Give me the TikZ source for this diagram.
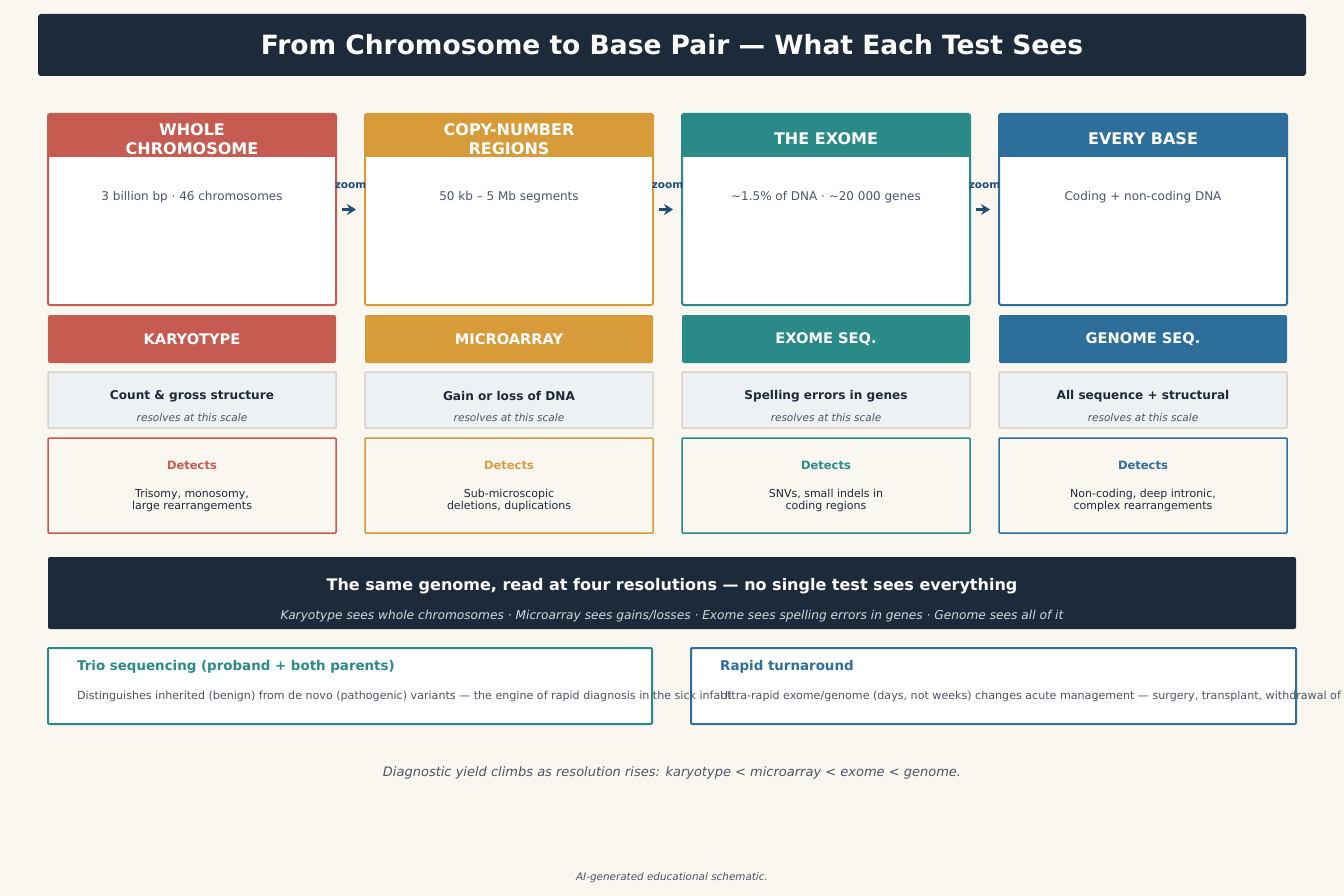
\documentclass[tikz,border=0pt]{standalone}
\usepackage{fontspec}
\setmainfont{DejaVu Sans}
\usetikzlibrary{positioning,arrows.meta}
\definecolor{bgcream}{HTML}{FAF7F1}
\definecolor{navy}{HTML}{1C2A3A}
\definecolor{txtgray}{HTML}{4A5568}
\definecolor{zoomblue}{HTML}{1F4E79}
\definecolor{cred}{HTML}{C65B52}
\definecolor{corange}{HTML}{D89B3A}
\definecolor{cteal}{HTML}{2A8A87}
\definecolor{cblue}{HTML}{2D6E9B}
\definecolor{scalefill}{HTML}{EDF1F4}
\definecolor{scaleline}{HTML}{D9D3C7}
\definecolor{bannertxt}{HTML}{D0D8E0}
\newcommand{\fs}[1]{\fontsize{#1}{1.15\dimexpr#1pt\relax}\selectfont}
\tikzset{
  box/.style={rectangle,inner sep=0pt,minimum width=288pt},
  card/.style={box,draw=#1,line width=2pt,fill=white,rounded corners=2pt,minimum height=191pt},
  cardhead/.style={box,fill=#1,minimum height=43pt},
  headtxt/.style={text=white,font=\fs{16}\bfseries,align=center},
  testhead/.style={box,fill=#1,rounded corners=2pt,minimum height=48pt,text=white,font=\fs{14.6}\bfseries},
  scalebox/.style={box,draw=scaleline,line width=1.5pt,fill=scalefill,rounded corners=1pt,minimum height=56pt},
  detbox/.style={box,draw=#1,line width=1.5pt,fill=bgcream,rounded corners=1pt,minimum height=95pt},
  zoomarrow/.style={-{Stealth[length=9pt,width=11pt]},line width=2.5pt,zoomblue,shorten <=5pt,shorten >=8pt},
  note/.style={box,draw=#1,line width=2pt,fill=white,rounded corners=1pt,minimum height=76pt}
}
\begin{document}
\begin{tikzpicture}[x=1pt,y=-1pt]
\useasboundingbox[fill=bgcream] (0,0) rectangle (1344,896);
% title
\node[fill=navy,rounded corners=3pt,minimum width=1268pt,minimum height=62pt,text=white,font=\fs{26.5}\bfseries]
  (title) at (672,45) {From Chromosome to Base Pair — What Each Test Sees};
% scale cards and the tests that read them
\foreach \i/\x/\col/\head/\sub/\test/\what/\det in {
  1/192/cred/{WHOLE\\CHROMOSOME}/{3 billion bp · 46 chromosomes}/KARYOTYPE/{Count \& gross structure}/{Trisomy, monosomy,\\large rearrangements},
  2/509/corange/{COPY-NUMBER\\REGIONS}/{50 kb – 5 Mb segments}/MICROARRAY/{Gain or loss of DNA}/{Sub-microscopic\\deletions, duplications},
  3/826/cteal/{THE EXOME}/{\textasciitilde1.5\% of DNA · \textasciitilde20 000 genes}/{EXOME SEQ.}/{Spelling errors in genes}/{SNVs, small indels in\\coding regions},
  4/1143/cblue/{EVERY BASE}/{Coding + non-coding DNA}/{GENOME SEQ.}/{All sequence + structural}/{Non-coding, deep intronic,\\complex rearrangements}} {
  \node[card=\col] (card\i) at (\x,209.5) {};
  \node[cardhead=\col] (head\i) at (\x,135.5) {};
  \node[headtxt] (htxt\i) at (\x,139) {\head};
  \node[text=txtgray,font=\fs{12}] (sub\i) at (\x,197) {\sub};
  \node[testhead=\col] (test\i) at (\x,339) {\test};
  \node[scalebox] (scale\i) at (\x,400) {};
  \node[text=navy,font=\fs{12.1}\bfseries] (what\i) at (\x,396) {\what};
  \node[text=txtgray,font=\fs{10.5}\itshape] (res\i) at (\x,417.5) {resolves at this scale};
  \node[detbox=\col] (det\i) at (\x,485.5) {};
  \node[text=\col,font=\fs{11.5}\bfseries] (dlab\i) at (\x,465) {Detects};
  \node[text=navy,font=\fs{11},align=center] (dtxt\i) at (\x,500.5) {\det};
}
\foreach \i/\j in {1/2,2/3,3/4}
  \draw[zoomarrow] (card\i.east) -- (card\j.west)
    node[midway,yshift=24pt,text=zoomblue,font=\fs{10.5}\bfseries] (zoom\i) {zoom};
% summary banner
\node[fill=navy,rounded corners=2pt,minimum width=1248pt,minimum height=72pt] (banner) at (672,593) {};
\node[text=white,font=\fs{16}\bfseries] (bhead) at (672,586) {The same genome, read at four resolutions — no single test sees everything};
\node[text=bannertxt,font=\fs{12.2}\itshape] (btxt) at (672,616) {Karyotype sees whole chromosomes · Microarray sees gains/losses · Exome sees spelling errors in genes · Genome sees all of it};
% notes
\node[note=cteal,minimum width=604pt] (trio) at (350,686) {};
\node[note=cblue,minimum width=605pt] (rapid) at (993.5,686) {};
\node[anchor=west,inner sep=0pt,text=cteal,font=\fs{13.4}\bfseries] (triohead) at (77,667) {Trio sequencing (proband + both parents)};
\node[anchor=west,inner sep=0pt,text=txtgray,font=\fs{11.1}] (triotxt) at (77,696) {Distinguishes inherited (benign) from de novo (pathogenic) variants — the engine of rapid diagnosis in the sick infant};
\node[anchor=west,inner sep=0pt,text=cblue,font=\fs{13.4}\bfseries] (rapidhead) at (720,667) {Rapid turnaround};
\node[anchor=west,inner sep=0pt,text=txtgray,font=\fs{11.1}] (rapidtxt) at (720,696) {Ultra-rapid exome/genome (days, not weeks) changes acute management — surgery, transplant, withdrawal of};
% footer
\node[text=txtgray,font=\fs{13}\itshape] (yield) at (672,773) {Diagnostic yield climbs as resolution rises: karyotype < microarray < exome < genome.};
\node[text=txtgray,font=\fs{10.4}\itshape] (credit) at (672,878) {AI-generated educational schematic.};
\end{tikzpicture}
\end{document}
